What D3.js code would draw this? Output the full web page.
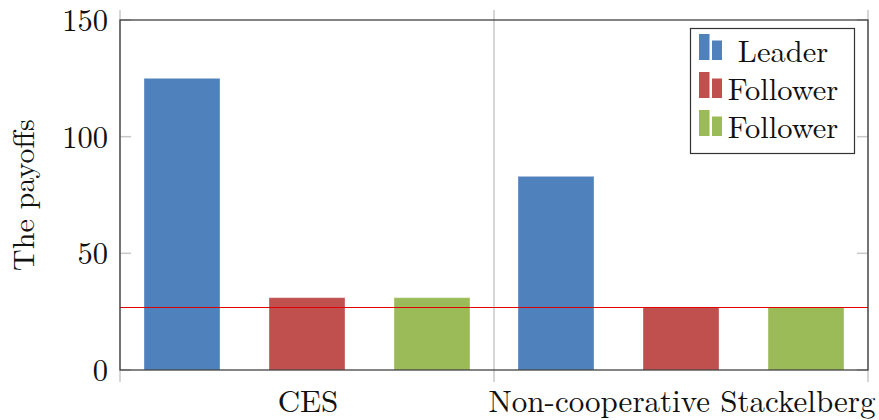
<!DOCTYPE html>
<html><head><meta charset="utf-8">
<script src="https://cdn.jsdelivr.net/npm/d3@7"></script>
<style>body{margin:0;background:#fff}svg{display:block}</style>
</head><body>
<svg id="c" width="879" height="420" font-family="Latin Modern Roman, Liberation Serif, serif"></svg>
<script>
const categories = ["CES", "Non-cooperative Stackelberg"];
const seriesNames = ["Leader", "Follower", "Follower "];
const seriesLabels = ["Leader", "Follower", "Follower"];
const leaderValues = [125, 83];
const follower1Values = [31, 27];
const follower2Values = [31, 27];
const refLineValue = 27;
const yTicks = [0, 50, 100, 150];
const colors = ["#4f81bd", "#c0504d", "#9bbb59"];
const seriesValues = [leaderValues, follower1Values, follower2Values];

const svg = d3.select("#c");
const L = 120, R = 868, T = 20, B = 370;
const x = d3.scaleBand().domain(categories).range([L, R]).padding(0);
const xs = d3.scalePoint().domain(seriesNames).range([-125, 125]);
const y = d3.scaleLinear().domain([0, 150]).range([B, T]);
const barW = 76;
const gray = "#c8c8c8";
const font = "Latin Modern Roman, Liberation Serif, serif";

// gray grid/tick lines at band boundaries
const bounds = [L, L + x.bandwidth(), R];
svg.append("g").selectAll("line").data(bounds).join("line")
  .attr("x1", d => d).attr("x2", d => d).attr("y1", T - 10).attr("y2", B + 12)
  .attr("stroke", gray).attr("stroke-width", 1.5);

// y ticks left and right (inside)
const yt = svg.append("g");
yt.selectAll("line.l").data(yTicks).join("line").attr("class","l")
  .attr("x1", L).attr("x2", L + 11).attr("y1", d => y(d)).attr("y2", d => y(d))
  .attr("stroke", gray).attr("stroke-width", 1.5);
yt.selectAll("line.r").data(yTicks).join("line").attr("class","r")
  .attr("x1", R - 11).attr("x2", R).attr("y1", d => y(d)).attr("y2", d => y(d))
  .attr("stroke", gray).attr("stroke-width", 1.5);

// bars
const data = [];
seriesNames.forEach((s, i) => categories.forEach((c, j) => data.push({s, c, v: seriesValues[i][j], i})));
svg.append("g").selectAll("rect").data(data).join("rect")
  .attr("x", d => x(d.c) + x.bandwidth() / 2 + xs(d.s) - barW / 2)
  .attr("y", d => y(d.v))
  .attr("width", barW)
  .attr("height", d => y(0) - y(d.v))
  .attr("fill", d => colors[d.i])
  .attr("stroke", "rgba(255,255,255,0.35)").attr("stroke-width", 1);

// reference line
svg.append("line").attr("x1", L).attr("x2", R).attr("y1", Math.round(y(refLineValue)) + 0.5).attr("y2", Math.round(y(refLineValue)) + 0.5)
  .attr("stroke", "#e00000").attr("stroke-width", 1);

// frame
svg.append("rect").attr("x", L).attr("y", T).attr("width", R - L).attr("height", B - T)
  .attr("fill", "none").attr("stroke", "#333").attr("stroke-width", 1.2);

// y tick labels
svg.append("g").selectAll("text").data(yTicks).join("text")
  .attr("font-family", font)
  .attr("x", 108).attr("y", d => y(d) + 11).attr("text-anchor", "end")
  .attr("font-size", 30.5).attr("fill", "#111").text(d => d);

// category labels
svg.append("g").selectAll("text").data(categories).join("text")
  .attr("font-family", font)
  .attr("x", d => x(d) + x.bandwidth() / 2 + 1).attr("y", 412).attr("text-anchor", "middle")
  .attr("font-size", 31).attr("fill", "#111").text(d => d);

// y axis title
svg.append("text").attr("transform", "translate(34,195) rotate(-90)")
  .attr("font-family", font)
  .attr("text-anchor", "middle").attr("font-size", 30).attr("fill", "#111").text("The payoffs");

// legend
const lg = svg.append("g");
lg.append("rect").attr("x", 690.5).attr("y", 28.5).attr("width", 164).attr("height", 125)
  .attr("fill", "#fff").attr("stroke", "#333").attr("stroke-width", 1.2);
seriesLabels.forEach((s, i) => {
  const cy = 61 + i * 38;
  lg.append("rect").attr("x", 699).attr("y", cy - 27).attr("width", 10.5).attr("height", 26).attr("fill", colors[i]);
  lg.append("rect").attr("x", 712).attr("y", cy - 20.5).attr("width", 10).attr("height", 19.5).attr("fill", colors[i]);
  lg.append("text").attr("x", 783).attr("y", cy + 0.5).attr("text-anchor", "middle")
    .attr("font-family", font).attr("font-size", 30.5).attr("fill", "#111").text(s);
});
</script>
</body></html>
